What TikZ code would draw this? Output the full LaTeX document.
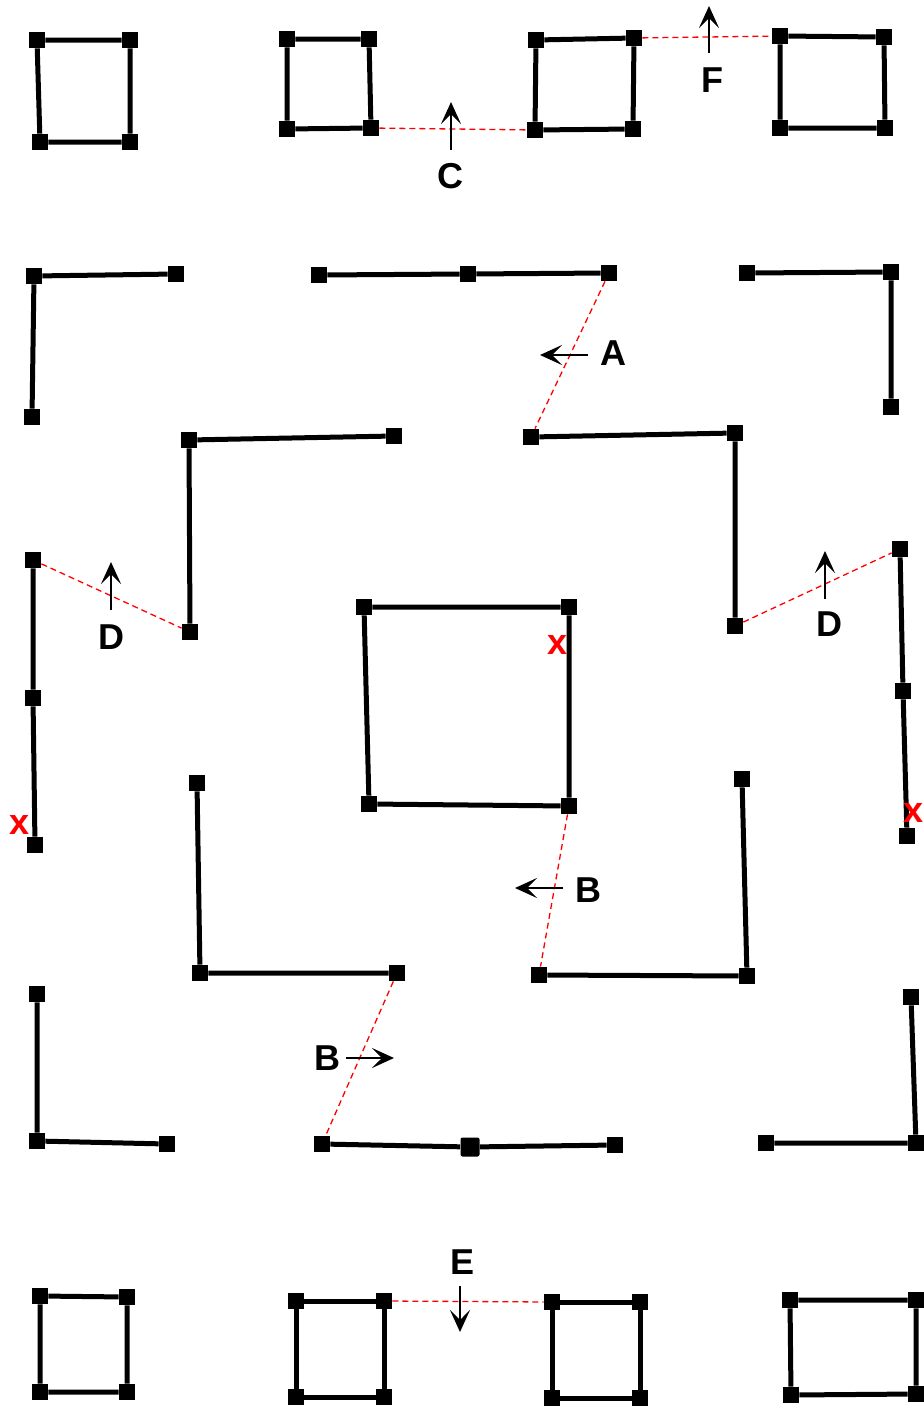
\documentclass[tikz,border=0pt]{standalone}
\usepackage{fontspec}
\setmainfont{Liberation Sans}
\usepackage{tikz}
\usetikzlibrary{arrows.meta, positioning}

\begin{document}
\begin{tikzpicture}[
  x=0.5pt, y=-0.5pt,
  joint/.style={fill=black, inner sep=0pt, minimum size=8pt},
  bigjoint/.style={joint, minimum size=9.5pt, rounded corners=1pt},
  wall/.style={line width=2.5pt},
  link/.style={red, line width=0.65pt, dash pattern=on 3pt off 2pt},
  arrow/.style={-{Stealth[length=11pt, width=10pt, inset=5pt]}, line width=1.4pt},
  tag/.style={inner sep=0pt, font=\fontsize{18}{20}\selectfont\bfseries},
  cross/.style={tag, text=red}
]
\useasboundingbox (0,0) rectangle (924,1408);

% top row
\node[joint] (t1nw) at (37,40) {};
\node[joint] (t1ne) at (130,40) {};
\node[joint] (t1sw) at (40,142) {};
\node[joint] (t1se) at (130,142) {};
\node[joint] (t2nw) at (287,39) {};
\node[joint] (t2ne) at (369,39) {};
\node[joint] (t2sw) at (287,129) {};
\node[joint] (t2se) at (371,128) {};
\node[joint] (t3nw) at (536,40) {};
\node[joint] (t3ne) at (634,38) {};
\node[joint] (t3sw) at (535,130) {};
\node[joint] (t3se) at (633,129) {};
\node[joint] (t4nw) at (780,36) {};
\node[joint] (t4ne) at (884,37) {};
\node[joint] (t4sw) at (780,128) {};
\node[joint] (t4se) at (885,128) {};
\draw[wall] (t1nw) -- (t1ne) -- (t1se) -- (t1sw) -- (t1nw);
\draw[wall] (t2nw) -- (t2ne) -- (t2se) -- (t2sw) -- (t2nw);
\draw[wall] (t3nw) -- (t3ne) -- (t3se) -- (t3sw) -- (t3nw);
\draw[wall] (t4nw) -- (t4ne) -- (t4se) -- (t4sw) -- (t4nw);
\draw[link] (t2se) -- (t3sw);
\draw[link] (t3ne) -- (t4nw);

% outer ring
\node[joint] (o1) at (34,276) {};
\node[joint] (o2) at (176,274) {};
\node[joint] (o3) at (32,417) {};
\node[joint] (o4) at (319,275) {};
\node[joint] (o5) at (468,274) {};
\node[joint] (o6) at (609,273) {};
\node[joint] (o7) at (747,273) {};
\node[joint] (o8) at (891,272) {};
\node[joint] (o9) at (891,407) {};
\node[joint] (o10) at (33,560) {};
\node[joint] (o11) at (33,698) {};
\node[joint] (o12) at (35,845) {};
\node[joint] (o13) at (900,549) {};
\node[joint] (o14) at (903,691) {};
\node[joint] (o15) at (907,836) {};
\node[joint] (o16) at (37,994) {};
\node[joint] (o17) at (37,1141) {};
\node[joint] (o18) at (167,1144) {};
\node[joint] (o19) at (322,1144) {};
\node[bigjoint] (o20) at (470,1147) {};
\node[joint] (o21) at (615,1145) {};
\node[joint] (o22) at (911,997) {};
\node[joint] (o23) at (916,1143) {};
\node[joint] (o24) at (766,1143) {};
\draw[wall] (o2) -- (o1) -- (o3);
\draw[wall] (o4) -- (o5) -- (o6);
\draw[wall] (o7) -- (o8) -- (o9);
\draw[wall] (o10) -- (o11) -- (o12);
\draw[wall] (o13) -- (o14) -- (o15);
\draw[wall] (o16) -- (o17) -- (o18);
\draw[wall] (o19) -- (o20) -- (o21);
\draw[wall] (o22) -- (o23) -- (o24);

% inner ring
\node[joint] (i1) at (394,436) {};
\node[joint] (i2) at (189,440) {};
\node[joint] (i3) at (190,632) {};
\node[joint] (i4) at (531,437) {};
\node[joint] (i5) at (735,433) {};
\node[joint] (i6) at (735,626) {};
\node[joint] (i7) at (197,783) {};
\node[joint] (i8) at (200,973) {};
\node[joint] (i9) at (397,973) {};
\node[joint] (i10) at (742,779) {};
\node[joint] (i11) at (747,976) {};
\node[joint] (i12) at (539,975) {};
\draw[wall] (i1) -- (i2) -- (i3);
\draw[wall] (i4) -- (i5) -- (i6);
\draw[wall] (i7) -- (i8) -- (i9);
\draw[wall] (i10) -- (i11) -- (i12);

% centre
\node[joint] (cnw) at (364,607) {};
\node[joint] (cne) at (569,607) {};
\node[joint] (csw) at (369,804) {};
\node[joint] (cse) at (569,806) {};
\draw[wall] (cnw) -- (cne) -- (cse) -- (csw) -- (cnw);

% bottom row
\node[joint] (b1nw) at (40,1296) {};
\node[joint] (b1ne) at (127,1297) {};
\node[joint] (b1sw) at (40,1392) {};
\node[joint] (b1se) at (127,1392) {};
\node[joint] (b2nw) at (296,1301) {};
\node[joint] (b2ne) at (384,1301) {};
\node[joint] (b2sw) at (296,1397) {};
\node[joint] (b2se) at (384,1397) {};
\node[joint] (b3nw) at (552,1302) {};
\node[joint] (b3ne) at (640,1302) {};
\node[joint] (b3sw) at (552,1398) {};
\node[joint] (b3se) at (640,1398) {};
\node[joint] (b4nw) at (790,1300) {};
\node[joint] (b4ne) at (916,1300) {};
\node[joint] (b4sw) at (791,1395) {};
\node[joint] (b4se) at (916,1394) {};
\draw[wall] (b1nw) -- (b1ne) -- (b1se) -- (b1sw) -- (b1nw);
\draw[wall] (b2nw) -- (b2ne) -- (b2se) -- (b2sw) -- (b2nw);
\draw[wall] (b3nw) -- (b3ne) -- (b3se) -- (b3sw) -- (b3nw);
\draw[wall] (b4nw) -- (b4ne) -- (b4se) -- (b4sw) -- (b4nw);
\draw[link] (b2ne) -- (b3nw);

% dashed links
\draw[link] (o6) -- (i4);
\draw[link] (o10) -- (i3);
\draw[link] (i6) -- (o13);
\draw[link] (cse) -- (i12);
\draw[link] (i9) -- (o19);

% arrows and labels
\coordinate (c0) at (451,150);
\coordinate (c1) at (451,102);
\draw[arrow] (c0) -- (c1);
\node[tag] (lblc) at (450,176) {C};
\coordinate (f0) at (709,53);
\coordinate (f1) at (709,6);
\draw[arrow] (f0) -- (f1);
\node[tag] (lblf) at (712,80) {F};
\coordinate (a0) at (588,355);
\coordinate (a1) at (540,355);
\draw[arrow] (a0) -- (a1);
\node[tag] (lbla) at (613,353) {A};
\coordinate (dl0) at (111,610);
\coordinate (dl1) at (111,562);
\draw[arrow] (dl0) -- (dl1);
\node[tag] (lbldl) at (111,637) {D};
\coordinate (dr0) at (825,599);
\coordinate (dr1) at (825,551);
\draw[arrow] (dr0) -- (dr1);
\node[tag] (lbldr) at (829,624) {D};
\coordinate (br0) at (563,888);
\coordinate (br1) at (515,888);
\draw[arrow] (br0) -- (br1);
\node[tag] (lblbr) at (588,890) {B};
\coordinate (bl0) at (346,1058);
\coordinate (bl1) at (394,1058);
\draw[arrow] (bl0) -- (bl1);
\node[tag] (lblbl) at (327,1058) {B};
\coordinate (e0) at (460,1286);
\coordinate (e1) at (460,1332);
\draw[arrow] (e0) -- (e1);
\node[tag] (lble) at (463,1262) {E};

% crossings
\node[cross] (xl) at (20,825) {x};
\node[cross] (xc) at (558,645) {x};
\node[cross] (xr) at (913,813) {x};
\end{tikzpicture}
\end{document}
